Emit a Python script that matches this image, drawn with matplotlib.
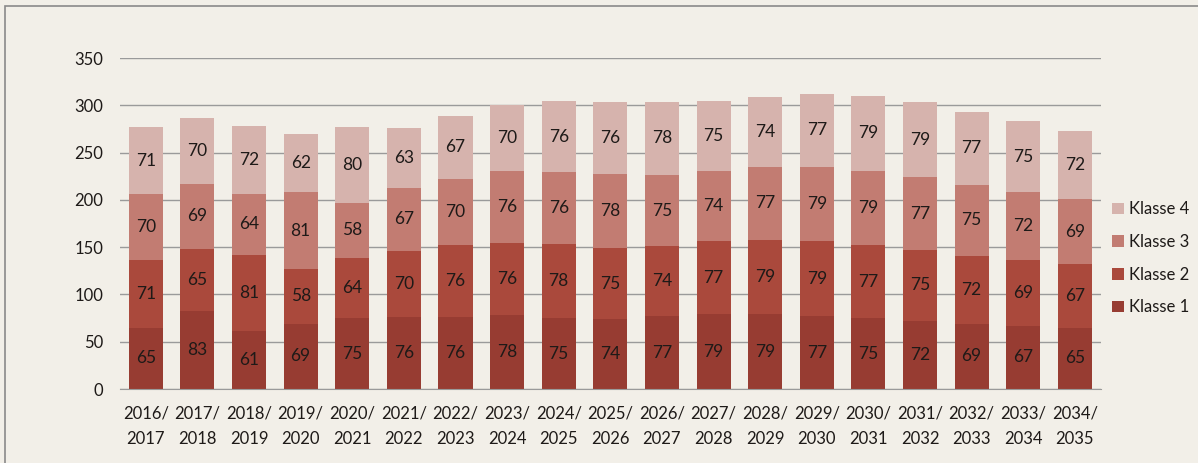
import numpy as np
import matplotlib.pyplot as plt
from matplotlib.patches import Rectangle

plt.rcParams['font.family'] = ['Lato', 'DejaVu Sans']

# Schuljahre und Schülerzahlen je Klassenstufe
jahre = ['2016/\n2017', '2017/\n2018', '2018/\n2019', '2019/\n2020', '2020/\n2021',
         '2021/\n2022', '2022/\n2023', '2023/\n2024', '2024/\n2025', '2025/\n2026',
         '2026/\n2027', '2027/\n2028', '2028/\n2029', '2029/\n2030', '2030/\n2031',
         '2031/\n2032', '2032/\n2033', '2033/\n2034', '2034/\n2035']
klasse1 = [65, 83, 61, 69, 75, 76, 76, 78, 75, 74, 77, 79, 79, 77, 75, 72, 69, 67, 65]
klasse2 = [71, 65, 81, 58, 64, 70, 76, 76, 78, 75, 74, 77, 79, 79, 77, 75, 72, 69, 67]
klasse3 = [70, 69, 64, 81, 58, 67, 70, 76, 76, 78, 75, 74, 77, 79, 79, 77, 75, 72, 69]
klasse4 = [71, 70, 72, 62, 80, 63, 67, 70, 76, 76, 78, 75, 74, 77, 79, 79, 77, 75, 72]

serien = [('Klasse 1', klasse1, '#973c32'),
          ('Klasse 2', klasse2, '#aa493c'),
          ('Klasse 3', klasse3, '#c27c72'),
          ('Klasse 4', klasse4, '#d6b3ad')]

bg = '#f2efe8'
fig = plt.figure(figsize=(11.98, 4.63), dpi=100, facecolor=bg)
ax = fig.add_axes([0.1002, 0.1598, 0.8185, 0.7149])
ax.set_facecolor(bg)

# Rahmen um das Diagramm
fig.patches.append(Rectangle((5 / 1198, -0.1), 1.2, 1 - 6 / 463 + 0.1,
                             transform=fig.transFigure, fill=False,
                             edgecolor='#8a8a8a', linewidth=1.2))

x = np.arange(len(jahre))
unten = np.zeros(len(jahre))
handles = []
for name, werte, farbe in serien:
    werte = np.array(werte)
    b = ax.bar(x, werte, 0.66, bottom=unten, color=farbe, label=name, zorder=2)
    handles.append(b)
    for xi, u, w in zip(x, unten, werte):
        ax.text(xi, u + w / 2, str(w), ha='center', va='center',
                fontsize=12.5, color='#1e1a18', zorder=3)
    unten += werte

ax.set_xlim(-0.5, len(jahre) - 0.5)
ax.set_ylim(0, 350)
ax.set_yticks(range(0, 351, 50))
ax.grid(axis='y', color='#9a9a9a', linewidth=1, zorder=0)
ax.set_axisbelow(True)
for s in ['top', 'right', 'left']:
    ax.spines[s].set_visible(False)
ax.spines['bottom'].set_color('#9a9a9a')
ax.tick_params(axis='both', length=0, labelsize=12, colors='#1e1a18')
ax.tick_params(axis='y', pad=12)
ax.tick_params(axis='x', pad=12)
ax.set_xticks(x)
ax.set_xticklabels(jahre, linespacing=1.75)

leg = ax.legend(handles[::-1], [s[0] for s in serien][::-1],
                loc='center left', bbox_to_anchor=(1.0, 0.395), frameon=False,
                fontsize=12, handlelength=0.7, handleheight=0.7,
                handletextpad=0.3, labelspacing=1.0, borderaxespad=0.3)
for t in leg.get_texts():
    t.set_color('#1e1a18')

plt.savefig('out.png', dpi=100, facecolor=bg)
